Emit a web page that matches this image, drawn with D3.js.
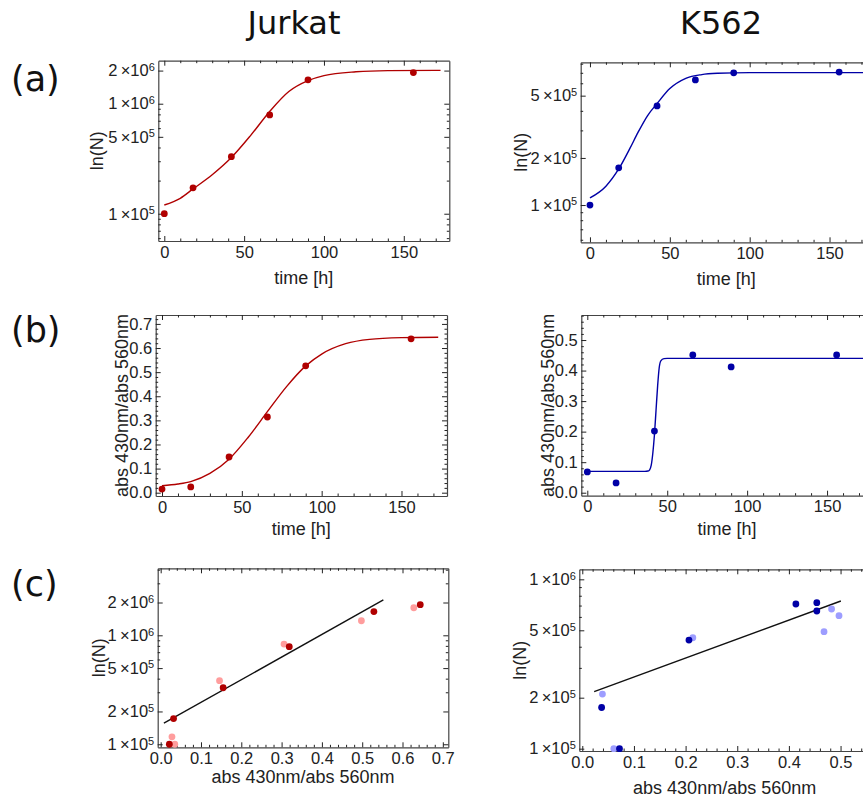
<!DOCTYPE html>
<html>
<head>
<meta charset="utf-8">
<script src="https://cdn.jsdelivr.net/npm/d3@7"></script>
<style>
  body { margin: 0; background: #fff; }
  svg { display: block; overflow: hidden; }
</style>
</head>
<body>
<div id="chart"></div>
<script>
// ---- data ----
var times = [0, 18, 42, 66, 90, 156];
var jurkatN = [1.0e5, 1.72e5, 3.3e5, 7.9e5, 1.65e6, 1.92e6];
var k562N = [1.0e5, 1.73e5, 4.3e5, 6.3e5, 7.0e5, 7.08e5];
var jurkatAbs = [0.015, 0.024, 0.148, 0.314, 0.526, 0.638];
var k562Abs = [0.068, 0.032, 0.202, 0.451, 0.412, 0.451];

// fitted curves
var jurkatFitNT = [0, 10, 18, 30, 42, 54, 66, 78, 90, 100, 120, 140, 173];
var jurkatFitN = [1.20e5, 1.38e5, 1.68e5, 2.26e5, 3.24e5, 5.13e5, 8.5e5, 1.29e6, 1.62e6, 1.80e6, 1.95e6, 2.0e6, 2.01e6];
var k562FitNT = [0, 10, 18, 25, 30, 36, 42, 50, 60, 70, 80, 100, 180];
var k562FitN = [1.11e5, 1.32e5, 1.70e5, 2.30e5, 2.90e5, 3.72e5, 4.45e5, 5.55e5, 6.45e5, 6.82e5, 6.95e5, 7.02e5, 7.02e5];
var jurkatFitAbsT = [0, 10, 18, 30, 42, 54, 66, 78, 90, 100, 115, 130, 150, 173];
var jurkatFitAbs = [0.029, 0.036, 0.046, 0.080, 0.139, 0.230, 0.336, 0.44, 0.526, 0.575, 0.618, 0.636, 0.643, 0.645];
var k562FitAbsT = [0, 36, 38, 39, 40, 41, 42, 43, 44, 45, 46, 48, 50, 180];
var k562FitAbs = [0.070, 0.070, 0.071, 0.075, 0.09, 0.13, 0.19, 0.27, 0.35, 0.41, 0.432, 0.439, 0.44, 0.44];

// (c) N against absorbance, two replicates
var jurkatDarkX = [0.0215, 0.032, 0.155, 0.319, 0.529, 0.644];
var jurkatDarkY = [1.0e5, 1.72e5, 3.3e5, 7.86e5, 1.65e6, 1.91e6];
var jurkatLightX = [0.028, 0.035, 0.146, 0.306, 0.498, 0.628];
var jurkatLightY = [1.17e5, 1.0e5, 3.83e5, 8.3e5, 1.36e6, 1.79e6];
var jurkatLineX = [0.008, 0.5525];
var jurkatLineY = [1.56e5, 2.11e6];
var k562DarkX = [0.0374, 0.072, 0.2065, 0.4135, 0.454, 0.454];
var k562DarkY = [1.75e5, 1.0e5, 4.38e5, 7.15e5, 7.28e5, 6.5e5];
var k562LightX = [0.039, 0.061, 0.214, 0.468, 0.4826, 0.497];
var k562LightY = [2.1e5, 1.0e5, 4.52e5, 4.91e5, 6.68e5, 6.1e5];
var k562LineX = [0.023, 0.5006];
var k562LineY = [2.17e5, 7.45e5];

// tick labels
var timeTicks = [0, 50, 100, 150];
var jurkatAbsTicks = [0, 0.1, 0.2, 0.3, 0.4, 0.5, 0.6, 0.7];
var k562AbsTicks = [0, 0.1, 0.2, 0.3, 0.4, 0.5];
var jurkatNTicksA = [1e5, 5e5, 1e6, 2e6];
var k562NTicksA = [1e5, 2e5, 5e5];
var jurkatNTicksC = [1e5, 2e5, 5e5, 1e6, 2e6];
var k562NTicksC = [1e5, 2e5, 5e5, 1e6];

var titles = ["Jurkat", "K562"];
var rowLabels = ["(a)", "(b)", "(c)"];

var darkRed = "#b00000", lightRed = "#ff9d9d";
var darkBlue = "#0000a6", lightBlue = "#9d9dff";
var tickFont = "Liberation Sans, Arial, sans-serif";

var svg = d3.select("#chart").append("svg")
  .attr("width", 863)
  .attr("height", 800);

function zip(a, b) {
  return a.map(function(v, i) { return [v, b[i]]; });
}

function logMinor(domain, majors) {
  var out = [];
  var lo = Math.floor(Math.log10(domain[0])), hi = Math.ceil(Math.log10(domain[1]));
  for (var e = lo; e <= hi; e++) {
    for (var k = 1; k <= 9; k++) {
      var v = k * Math.pow(10, e);
      if (v >= domain[0] && v <= domain[1] && majors.indexOf(v) < 0) out.push(v);
    }
  }
  return out;
}

function linMinor(domain, step, majors) {
  var out = [];
  var start = Math.ceil(domain[0] / step - 1e-9);
  for (var i = start; i * step <= domain[1] + 1e-9; i++) {
    var v = +(i * step).toFixed(6);
    if (!majors.some(function(m) { return Math.abs(m - v) < 1e-9; })) out.push(v);
  }
  return out;
}

function sciLabels(sel) {
  sel.selectAll(".tick text").each(function(d) {
    var e = Math.floor(Math.log10(d) + 1e-9);
    var m = Math.round(d / Math.pow(10, e));
    var t = d3.select(this).text(null);
    t.append("tspan").text(m + "\u2009\u00d710");
    t.append("tspan").attr("dy", "-0.5em").attr("font-size", "11px").text(e);
  });
}

// one framed plot with mirrored ticks on all four sides
function panel(cfg) {
  var x = d3.scaleLinear().domain(cfg.xDomain).range([cfg.left, cfg.right]);
  var y = (cfg.log ? d3.scaleLog() : d3.scaleLinear())
    .domain(cfg.yDomain).range([cfg.bottom, cfg.top]);
  var g = svg.append("g");

  var xMinor = linMinor(cfg.xDomain, cfg.xMinorStep, cfg.xTicks);
  var yMinor = cfg.log ? logMinor(cfg.yDomain, cfg.yTicks) : linMinor(cfg.yDomain, cfg.yMinorStep, cfg.yTicks);

  function axisPair(maker, pos, scale, majors, minors, labels) {
    var ga = g.append("g").attr("transform", pos);
    var a = maker(scale).tickValues(majors).tickSizeInner(-5).tickSizeOuter(0).tickPadding(labels ? labels.pad : 3);
    a.tickFormat(labels ? labels.fmt : "");
    ga.call(a);
    var gm = g.append("g").attr("transform", pos);
    gm.call(maker(scale).tickValues(minors).tickSizeInner(-2.5).tickSizeOuter(0).tickFormat(""));
    gm.select(".domain").remove();
    ga.select(".domain").attr("stroke", "#444").attr("stroke-width", 1.2);
    g.selectAll(".tick line").attr("stroke", "#222");
    ga.selectAll(".tick text").attr("font-family", tickFont).attr("font-size", "16.5px").attr("fill", "#222");
    return ga;
  }

  axisPair(d3.axisBottom, "translate(0," + cfg.bottom + ")", x, cfg.xTicks, xMinor, { fmt: cfg.xFmt, pad: 5 });
  axisPair(d3.axisTop, "translate(0," + cfg.top + ")", x, cfg.xTicks, xMinor, null);
  var left = axisPair(d3.axisLeft, "translate(" + cfg.left + ",0)", y, cfg.yTicks, yMinor,
    { fmt: cfg.log ? function(d) { return d; } : d3.format(".1f"), pad: 3.5 });
  if (cfg.log) left.call(sciLabels);
  axisPair(d3.axisRight, "translate(" + cfg.right + ",0)", y, cfg.yTicks, yMinor, null);

  g.append("text")
    .attr("x", (cfg.left + cfg.right) / 2)
    .attr("y", cfg.xLabelY)
    .attr("text-anchor", "middle")
    .attr("font-family", tickFont)
    .attr("font-size", "18px")
    .attr("fill", "#222")
    .text(cfg.xLabel);

  g.append("text")
    .attr("transform", "translate(" + cfg.yLabelX + "," + (cfg.top + cfg.bottom) / 2 + ") rotate(-90)")
    .attr("dy", "0.35em")
    .attr("text-anchor", "middle")
    .attr("font-family", tickFont)
    .attr("font-size", "18px")
    .attr("fill", "#222")
    .text(cfg.yLabel);

  return { g: g, x: x, y: y };
}

function drawCurve(p, xs, ys, color, curve) {
  p.g.append("path")
    .datum(zip(xs, ys))
    .attr("fill", "none")
    .attr("stroke", color)
    .attr("stroke-width", 1.4)
    .attr("d", d3.line()
      .x(function(d) { return p.x(d[0]); })
      .y(function(d) { return p.y(d[1]); })
      .curve(curve || d3.curveLinear));
}

function drawPoints(p, xs, ys, color) {
  p.g.append("g").selectAll("circle")
    .data(zip(xs, ys))
    .enter()
    .append("circle")
    .attr("cx", function(d) { return p.x(d[0]); })
    .attr("cy", function(d) { return p.y(d[1]); })
    .attr("r", 3.4)
    .attr("fill", color);
}

var absLabel = "abs 430nm/abs 560nm";

// (a) cell number vs time
var aJ = panel({ left: 158.3, right: 449.3, top: 60.7, bottom: 241, xDomain: [-3.76, 178.5], yDomain: [5.65e4, 2.46e6], log: true,
  xTicks: timeTicks, xMinorStep: 10, yTicks: jurkatNTicksA, xFmt: d3.format("d"),
  xLabel: "time [h]", xLabelY: 284, yLabel: "ln(N)", yLabelX: 96.7 });
drawCurve(aJ, jurkatFitNT, jurkatFitN, darkRed, d3.curveMonotoneX);
drawPoints(aJ, times, jurkatN, darkRed);

var aK = panel({ left: 580.7, right: 871.7, top: 62.3, bottom: 242.3, xDomain: [-5.8, 176.4], yDomain: [5.78e4, 8.17e5], log: true,
  xTicks: timeTicks, xMinorStep: 10, yTicks: k562NTicksA, xFmt: d3.format("d"),
  xLabel: "time [h]", xLabelY: 285, yLabel: "ln(N)", yLabelX: 520.5 });
drawCurve(aK, k562FitNT, k562FitN, darkBlue, d3.curveMonotoneX);
drawPoints(aK, times, k562N, darkBlue);

// (b) absorbance ratio vs time
var bJ = panel({ left: 155.7, right: 447, top: 315, bottom: 496, xDomain: [-3.95, 178.5], yDomain: [-0.0137, 0.737], log: false,
  xTicks: timeTicks, xMinorStep: 10, yTicks: jurkatAbsTicks, yMinorStep: 0.02, xFmt: d3.format("d"),
  xLabel: "time [h]", xLabelY: 535, yLabel: absLabel, yLabelX: 121.7 });
drawCurve(bJ, jurkatFitAbsT, jurkatFitAbs, darkRed, d3.curveMonotoneX);
drawPoints(bJ, times, jurkatAbs, darkRed);

var bK = panel({ left: 581.3, right: 872.6, top: 315, bottom: 495.7, xDomain: [-3.76, 178.5], yDomain: [-0.0098, 0.582], log: false,
  xTicks: timeTicks, xMinorStep: 10, yTicks: k562AbsTicks, yMinorStep: 0.02, xFmt: d3.format("d"),
  xLabel: "time [h]", xLabelY: 535, yLabel: absLabel, yLabelX: 547.3 });
drawCurve(bK, k562FitAbsT, k562FitAbs, darkBlue, d3.curveMonotoneX);
drawPoints(bK, times, k562Abs, darkBlue);

// (c) cell number vs absorbance ratio
var cJ = panel({ left: 157.7, right: 448.3, top: 568.3, bottom: 747.3, xDomain: [-0.0074, 0.7136], yDomain: [9.38e4, 4.12e6], log: true,
  xTicks: jurkatAbsTicks, xMinorStep: 0.02, yTicks: jurkatNTicksC, xFmt: d3.format(".1f"),
  xLabel: absLabel, xLabelY: 783, yLabel: "ln(N)", yLabelX: 98.3 });
drawCurve(cJ, jurkatLineX, jurkatLineY, "#111");
drawPoints(cJ, jurkatLightX, jurkatLightY, lightRed);
drawPoints(cJ, jurkatDarkX, jurkatDarkY, darkRed);

var cK = panel({ left: 579.3, right: 870, top: 569.3, bottom: 751, xDomain: [-0.0058, 0.557], yDomain: [9.69e4, 1.146e6], log: true,
  xTicks: k562AbsTicks, xMinorStep: 0.02, yTicks: k562NTicksC, xFmt: d3.format(".1f"),
  xLabel: absLabel, xLabelY: 794, yLabel: "ln(N)", yLabelX: 519.5 });
drawCurve(cK, k562LineX, k562LineY, "#111");
drawPoints(cK, k562LightX, k562LightY, lightBlue);
drawPoints(cK, k562DarkX, k562DarkY, darkBlue);

// column titles and row letters
svg.selectAll(".title")
  .data(titles)
  .enter()
  .append("text")
  .attr("class", "title")
  .attr("x", function(d, i) { return [294, 721][i]; })
  .attr("y", 34)
  .attr("text-anchor", "middle")
  .attr("font-family", "DejaVu Sans, sans-serif")
  .attr("font-size", "32px")
  .attr("fill", "#111")
  .text(function(d) { return d; });

svg.selectAll(".row")
  .data(rowLabels)
  .enter()
  .append("text")
  .attr("class", "row")
  .attr("x", 11)
  .attr("y", function(d, i) { return [91, 342, 596][i]; })
  .attr("font-family", "DejaVu Sans, sans-serif")
  .attr("font-size", "35px")
  .attr("fill", "#111")
  .text(function(d) { return d; });
</script>
</body>
</html>
